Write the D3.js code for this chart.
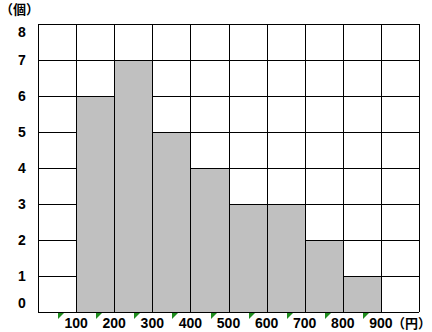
<!DOCTYPE html>
<html>
<head>
<meta charset="utf-8">
<script src="https://cdn.jsdelivr.net/npm/d3@7"></script>
<style>
  body { margin: 0; background: #fff; }
  text { font-family: "Liberation Sans", Arial, "Noto Sans CJK JP", sans-serif; font-weight: bold; fill: #000; }
</style>
</head>
<body>
<div id="chart"></div>
<script>
// histogram bins (lower edge, yen) and counts
var binStarts = [0, 100, 200, 300, 400, 500, 600, 700, 800, 900];
var counts = [0, 6, 7, 5, 4, 3, 3, 2, 1, 0];
var xTickLabels = ["100", "200", "300", "400", "500", "600", "700", "800", "900"];
var yTickLabels = ["0", "1", "2", "3", "4", "5", "6", "7", "8"];

var width = 432, height = 332,
    margin = { top: 24, left: 38, right: 13, bottom: 20 };

var svg = d3.select("#chart")
    .append("svg")
    .attr("width", width)
    .attr("height", height);

var x = d3.scaleLinear()
    .domain([0, 1000])
    .range([margin.left, width - margin.right]);

var y = d3.scaleLinear()
    .domain([0, 8])
    .range([height - margin.bottom, margin.top]);

// grid
svg.selectAll(".hgrid")
    .data(yTickLabels)
    .enter().append("line")
    .attr("x1", x(0)).attr("x2", x(1000))
    .attr("y1", d => Math.round(y(+d)) + 0.5)
    .attr("y2", d => Math.round(y(+d)) + 0.5)
    .attr("stroke", "#000");

svg.selectAll(".vgrid")
    .data(d3.range(0, 1001, 100))
    .enter().append("line")
    .attr("y1", y(0)).attr("y2", y(8))
    .attr("x1", d => Math.round(x(d)) + 0.5)
    .attr("x2", d => Math.round(x(d)) + 0.5)
    .attr("stroke", "#000");

// bars
svg.selectAll(".bar")
    .data(binStarts)
    .enter().append("rect")
    .attr("x", d => Math.round(x(d)) + 0.5)
    .attr("width", d => Math.round(x(d + 100)) - Math.round(x(d)))
    .attr("y", (d, i) => Math.round(y(counts[i])) + 0.5)
    .attr("height", (d, i) => Math.round(y(0)) - Math.round(y(counts[i])))
    .attr("fill", "#c0c0c0")
    .attr("stroke", "#000")
    .style("display", (d, i) => counts[i] > 0 ? null : "none");

// y labels (top and bottom are pulled inside the frame)
svg.selectAll(".ylab")
    .data(yTickLabels)
    .enter().append("text")
    .attr("x", 22)
    .attr("y", d => y(+d) + (d === "8" ? 8 : d === "0" ? -9 : 0))
    .attr("dy", "0.36em")
    .attr("text-anchor", "middle")
    .style("font-size", "14px")
    .text(d => d);

// x labels with the little green cell markers
svg.selectAll(".xmark")
    .data(xTickLabels)
    .enter().append("path")
    .attr("d", d => {
        var x0 = Math.round(x(+d)) - 18, y0 = y(0) + 1;
        return "M" + x0 + "," + y0 + "h6l-6,6z";
    })
    .attr("fill", "#1e8c1e");

svg.selectAll(".xlab")
    .data(xTickLabels)
    .enter().append("text")
    .attr("x", d => x(+d))
    .attr("y", y(0) + 11)
    .attr("dy", "0.36em")
    .attr("text-anchor", "middle")
    .style("font-size", "14px")
    .text(d => d);

svg.append("text")
    .attr("x", width - 1)
    .attr("y", y(0) + 11)
    .attr("dy", "0.36em")
    .attr("text-anchor", "end")
    .style("font-size", "13px")
    .text("（円）");

svg.append("text")
    .attr("x", 0)
    .attr("y", 9)
    .attr("dy", "0.36em")
    .attr("text-anchor", "start")
    .style("font-size", "13px")
    .text("（個）");
</script>
</body>
</html>
